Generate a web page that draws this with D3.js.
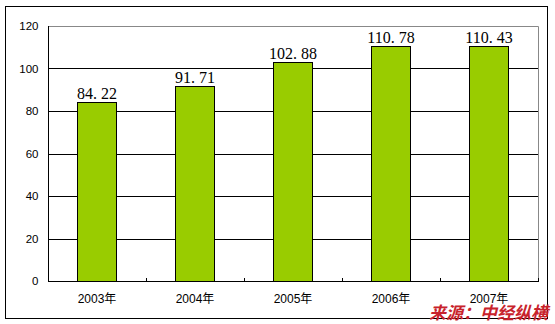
<!DOCTYPE html>
<html>
<head>
<meta charset="utf-8">
<script src="https://cdn.jsdelivr.net/npm/d3@7"></script>
<style>
  body { margin: 0; background: #fff; }
  svg { display: block; }
</style>
</head>
<body>
<div id="chart"></div>
<script>
const years = ['2003年', '2004年', '2005年', '2006年', '2007年'];
const values = [84.22, 91.71, 102.88, 110.78, 110.43];
const yTicks = [0, 20, 40, 60, 80, 100, 120];
const sourceText = '来源：中经纵横';

const W = 555, H = 324;
const plot = { left: 48, right: 538, top: 26, bottom: 281 };

const svg = d3.select('#chart').append('svg')
  .attr('width', W)
  .attr('height', H);

// outer frame
svg.append('rect')
  .attr('x', 5.5).attr('y', 6.5)
  .attr('width', 542).attr('height', 312)
  .attr('fill', '#fff')
  .attr('stroke', '#000')
  .attr('stroke-width', 1);

const x = d3.scaleBand()
  .domain(years)
  .range([plot.left, plot.right])
  .paddingInner(0.6)
  .paddingOuter(0.3);

const y = d3.scaleLinear()
  .domain([0, 120])
  .range([plot.bottom, plot.top]);

// plot area border (gray top/right)
svg.append('path')
  .attr('d', `M${plot.left},${plot.top + 0.5}H${plot.right + 0.5}V${plot.bottom}`)
  .attr('fill', 'none')
  .attr('stroke', '#888');

// gridlines
svg.append('g')
  .selectAll('line')
  .data(yTicks.filter(t => t > 0 && t < 120))
  .join('line')
  .attr('x1', plot.left)
  .attr('x2', plot.right)
  .attr('y1', d => Math.round(y(d)) + 0.5)
  .attr('y2', d => Math.round(y(d)) + 0.5)
  .attr('stroke', '#000');

// bars
svg.append('g')
  .selectAll('rect')
  .data(values)
  .join('rect')
  .attr('x', (d, i) => Math.round(x(years[i])) + 0.5)
  .attr('y', d => Math.round(y(d)) + 0.5)
  .attr('width', Math.round(x.bandwidth()))
  .attr('height', d => Math.round(plot.bottom - y(d)))
  .attr('fill', '#99cc00')
  .attr('stroke', '#000');

// value labels
svg.append('g')
  .selectAll('text')
  .data(values)
  .join('text')
  .attr('x', (d, i) => x(years[i]) + x.bandwidth() / 2)
  .attr('y', d => y(d) - 3)
  .attr('text-anchor', 'middle')
  .attr('font-family', '"Liberation Serif", serif')
  .attr('font-size', 16)
  .attr('fill', '#000')
  .text(d => d.toFixed(2).replace('.', '. '));

// y axis
const yAxis = svg.append('g')
  .attr('transform', `translate(${plot.left + 0.5},0)`)
  .call(d3.axisLeft(y).tickValues(yTicks).tickSize(0).tickPadding(10));
yAxis.select('.domain').attr('stroke', '#000').attr('d', `M0,${plot.top}V${plot.bottom}`);
yAxis.selectAll('text')
  .attr('font-family', 'Arial, "Liberation Sans", sans-serif')
  .attr('font-size', 11.5)
  .attr('fill', '#000');

// x axis line and inside ticks between categories
svg.append('line')
  .attr('x1', plot.left).attr('x2', plot.right + 1)
  .attr('y1', plot.bottom + 0.5).attr('y2', plot.bottom + 0.5)
  .attr('stroke', '#000');

svg.append('g')
  .selectAll('line')
  .data(d3.range(1, years.length + 1))
  .join('line')
  .attr('x1', i => Math.round(plot.left + i * (plot.right - plot.left) / years.length) + 0.5)
  .attr('x2', i => Math.round(plot.left + i * (plot.right - plot.left) / years.length) + 0.5)
  .attr('y1', plot.bottom - 3)
  .attr('y2', plot.bottom)
  .attr('stroke', '#000');

svg.append('g')
  .selectAll('text')
  .data(years)
  .join('text')
  .attr('x', d => x(d) + x.bandwidth() / 2)
  .attr('y', 303)
  .attr('text-anchor', 'middle')
  .attr('font-family', 'Arial, "Noto Sans CJK SC", sans-serif')
  .attr('font-size', 12)
  .attr('fill', '#000')
  .text(d => d);

// source
svg.append('text')
  .attr('x', 548)
  .attr('y', 319)
  .attr('text-anchor', 'end')
  .attr('font-family', '"Noto Sans CJK SC", sans-serif')
  .attr('font-size', 17)
  .attr('font-weight', 'bold')
  .attr('font-style', 'italic')
  .attr('fill', '#c8232c')
  .text(sourceText);
</script>
</body>
</html>
